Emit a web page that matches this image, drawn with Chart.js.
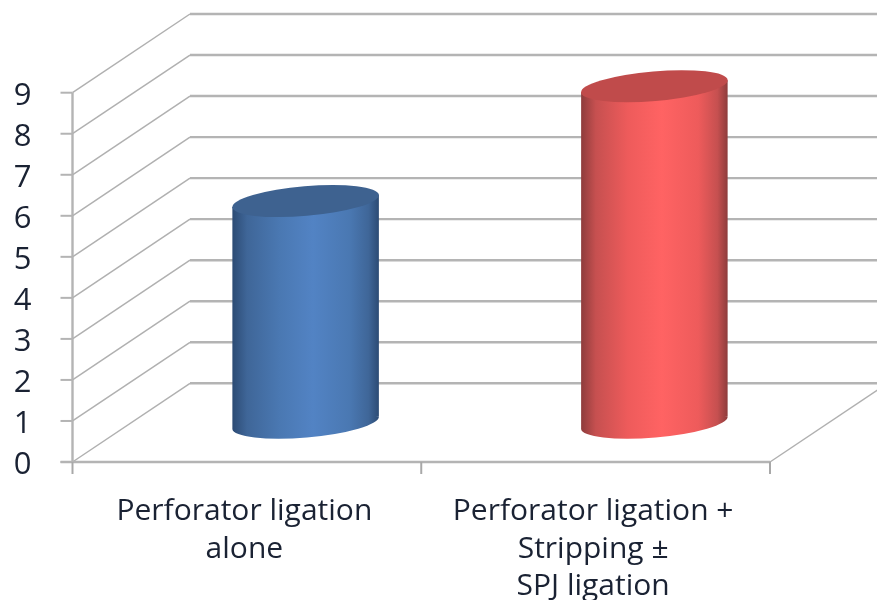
<!DOCTYPE html>
<html>
<head>
<meta charset="utf-8">
<style>html,body{margin:0;padding:0;background:#fff}canvas{display:block}</style>
<script src="https://cdn.jsdelivr.net/npm/chart.js@4"></script>
</head>
<body>
<canvas id="chart" width="877" height="600"></canvas>
<script>
const categories = [
  ["Perforator ligation", "alone"],
  ["Perforator ligation +", "Stripping ±", "SPJ ligation"]
];
const values = [5.4, 8.2];
const barColors = ["#5283c4", "#ff6363"];
const nearColors = ["#4a78b2", "#ee5b5b"];
const midColors = ["#3f6698", "#c65050"];
const edgeColors = ["#2c4b74", "#8e3c3c"];
const topColors = ["#3e6290", "#c04b4b"];
const yTickValues = [0, 1, 2, 3, 4, 5, 6, 7, 8, 9];

// Receding offset of the back wall relative to the front plane
const DEPTH_X = 117.5;
const DEPTH_Y = -78.7;
const GRID = "#b4b4b4";
const ELLIPSE_B = 14.8;
const ELLIPSE_TILT = -4.88 * Math.PI / 180;

function line(ctx, x0, y0, x1, y1, color, width) {
  ctx.beginPath();
  ctx.moveTo(x0, y0);
  ctx.lineTo(x1, y1);
  ctx.strokeStyle = color;
  ctx.lineWidth = width;
  ctx.stroke();
}

// Back wall, side wall, floor and tick marks of the box
const boxPlugin = {
  id: "box3d",
  beforeDatasetsDraw(chart) {
    const { ctx, scales: { x, y }, chartArea: { left, right, bottom } } = chart;
    ctx.save();
    ctx.lineCap = "butt";
    yTickValues.forEach(v => {
      const py = y.getPixelForValue(v);
      line(ctx, left + DEPTH_X, py + DEPTH_Y, right + DEPTH_X + 1, py + DEPTH_Y, GRID, 2.4);
      line(ctx, left, py, left + DEPTH_X, py + DEPTH_Y, "#b0b0b0", 1.5);
      line(ctx, left - 12, py, left, py, GRID, 2);
    });
    line(ctx, right, bottom, right + DEPTH_X, bottom + DEPTH_Y, "#b0b0b0", 1.5);
    line(ctx, left, y.getPixelForValue(9), left, bottom, GRID, 2.4);
    line(ctx, left - 12, bottom, right, bottom, GRID, 2.4);
    const step = (right - left) / categories.length;
    for (let i = 0; i <= categories.length; i++) {
      line(ctx, left + i * step, bottom, left + i * step, bottom + 12, "#a8a8a8", 2);
    }
    ctx.restore();
  }
};

// Each bar element is painted as a shaded cylinder standing mid-way into the box
const cylinderPlugin = {
  id: "cylinders",
  beforeDatasetDraw(chart, args) {
    const { ctx } = chart;
    const meta = chart.getDatasetMeta(args.index);
    meta.data.forEach((bar, i) => {
      const cx = bar.x + DEPTH_X / 2;
      const half = bar.width / 2;
      const topY = bar.y + DEPTH_Y / 2;
      const baseY = bar.base + DEPTH_Y / 2;
      const a = half + 0.3;
      const rimDrop = 6;

      const shade = ctx.createLinearGradient(cx - half, 0, cx + half, 0);
      shade.addColorStop(0, edgeColors[i]);
      shade.addColorStop(0.1, midColors[i]);
      shade.addColorStop(0.32, nearColors[i]);
      shade.addColorStop(0.55, barColors[i]);
      shade.addColorStop(0.8, nearColors[i]);
      shade.addColorStop(0.93, midColors[i]);
      shade.addColorStop(1, edgeColors[i]);

      ctx.save();
      ctx.beginPath();
      ctx.moveTo(cx - half, topY + rimDrop);
      ctx.lineTo(cx + half, topY - rimDrop);
      ctx.lineTo(cx + half, baseY - rimDrop);
      ctx.lineTo(cx - half, baseY + rimDrop);
      ctx.closePath();
      ctx.moveTo(cx + a, baseY);
      ctx.ellipse(cx, baseY, a, ELLIPSE_B, ELLIPSE_TILT, 0, Math.PI * 2);
      ctx.fillStyle = shade;
      ctx.fill();

      ctx.beginPath();
      ctx.ellipse(cx, topY, a, ELLIPSE_B, ELLIPSE_TILT, 0, Math.PI * 2);
      ctx.fillStyle = topColors[i];
      ctx.fill();
      ctx.restore();
    });
    return false;
  }
};

new Chart(document.getElementById("chart"), {
  type: "bar",
  data: {
    labels: categories,
    datasets: [{ data: values, backgroundColor: barColors, barThickness: 146.5 }]
  },
  options: {
    responsive: false,
    animation: false,
    layout: { padding: { top: 92.7, right: 107, left: 0, bottom: 0 } },
    plugins: { legend: { display: false }, title: { display: false }, tooltip: { enabled: false } },
    scales: {
      x: {
        grid: { display: false },
        border: { display: false },
        afterFit(s) { s.height = 138; },
        ticks: {
          padding: 23,
          maxRotation: 0,
          autoSkip: false,
          labelOffset: -2.5,
          color: "#1a2233",
          font: { family: "Open Sans", size: 30, lineHeight: 1.25 }
        }
      },
      y: {
        min: 0,
        max: 9,
        grid: { display: false },
        border: { display: false },
        afterFit(s) { s.width = 72.5; },
        afterBuildTicks(s) { s.ticks = yTickValues.map(value => ({ value })); },
        ticks: {
          padding: 33,
          labelOffset: 3,
          color: "#1a2233",
          font: { family: "Open Sans", size: 31 }
        }
      }
    }
  },
  plugins: [boxPlugin, cylinderPlugin]
});
</script>
</body>
</html>
